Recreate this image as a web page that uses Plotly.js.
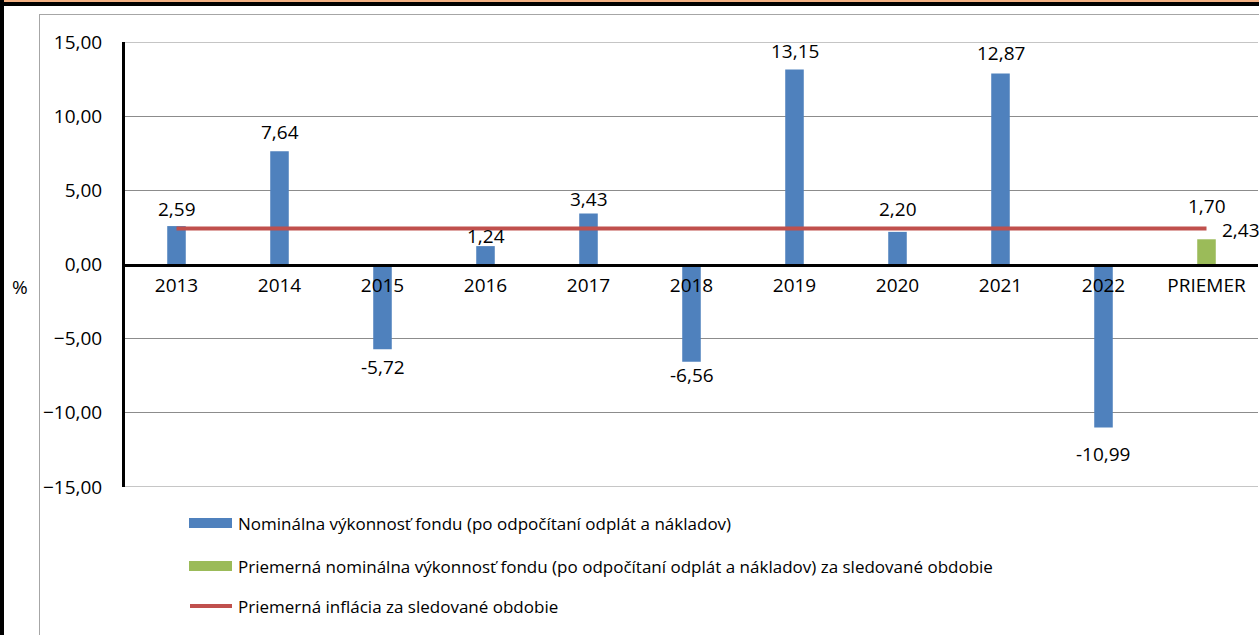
<!DOCTYPE html>
<html>
<head>
<meta charset="utf-8">
<script src="https://cdn.plot.ly/plotly-3.0.1.min.js"></script>
<style>
  html, body { margin: 0; padding: 0; background: #ffffff; }
  #chart { position: absolute; left: 0; top: 0; width: 1259px; height: 635px; }
  .frame { position: absolute; pointer-events: none; }
</style>
</head>
<body>
<div id="chart"></div>
<div class="frame" style="left:0;top:0;width:1259px;height:2px;background:#f4b183;"></div>
<div class="frame" style="left:0;top:2px;width:1259px;height:4px;background:#000;"></div>
<div class="frame" style="left:0;top:0;width:4px;height:635px;background:#000;"></div>
<div class="frame" style="left:39px;top:14px;width:1220px;height:621px;border-left:1px solid #a6a6a6;border-top:1px solid #a6a6a6;box-sizing:border-box;"></div>
<script>
// ---- data ----
const categories = ['2013', '2014', '2015', '2016', '2017', '2018', '2019', '2020', '2021', '2022', 'PRIEMER'];
const fundReturn = [2.59, 7.64, -5.72, 1.24, 3.43, -6.56, 13.15, 2.20, 12.87, -10.99, null];
const avgFundReturn = [null, null, null, null, null, null, null, null, null, null, 1.70];
const avgInflation = [2.43, 2.43, 2.43, 2.43, 2.43, 2.43, 2.43, 2.43, 2.43, 2.43, 2.43];
const seriesNames = [
  'Nominálna výkonnosť fondu (po odpočítaní odplát a nákladov)',
  'Priemerná nominálna výkonnosť fondu (po odpočítaní odplát a nákladov) za sledované obdobie',
  'Priemerná inflácia za sledované obdobie'
];
const yTicks = [-15, -10, -5, 0, 5, 10, 15];

// ---- style ----
const blue = '#4f81bd', green = '#9bbb59', red = '#c0504d';
const FONT = 'Open Sans, sans-serif';
const TICK_SIZE = 19, LEGEND_SIZE = 17;
// per-label vertical distance (px) between bar end and label centre
const labelNudge = [17, 19, 18, 10, 15, 13, 18, 23, 21, 26, 33];

const W = 1259, H = 635;
const M = { l: 125, r: 1, t: 42, b: 148 };
const pw = W - M.l - M.r, ph = H - M.t - M.b;
const px2x = p => (p - M.l) / pw;
const px2y = p => (H - M.b - p) / ph;
const fmt = v => v.toFixed(2).replace('.', ',');

const traces = [
  { type: 'bar', x: categories, y: fundReturn, name: seriesNames[0],
    marker: { color: blue }, width: 0.18, showlegend: false, hoverinfo: 'x+y' },
  { type: 'bar', x: categories, y: avgFundReturn, name: seriesNames[1],
    marker: { color: green }, width: 0.18, showlegend: false, hoverinfo: 'x+y' },
  { type: 'scatter', mode: 'lines', x: categories, y: avgInflation, name: seriesNames[2],
    line: { color: red, width: 4 }, showlegend: false, hoverinfo: 'x+y' }
];

const annotations = [];
// data labels (x given as category index so numeric-looking names are not misread)
categories.forEach((c, i) => {
  let v = fundReturn[i];
  if (v === null) v = avgFundReturn[i];
  if (v === null) return;
  const s = v >= 0 ? 1 : -1;
  annotations.push({ x: i, y: v, xref: 'x', yref: 'y', text: fmt(v), showarrow: false,
    xanchor: 'center', yanchor: 'middle',
    yshift: s * labelNudge[i], font: { family: FONT, size: TICK_SIZE, color: '#000' } });
});
// inflation label at the end of the line
const last = categories.length - 1;
annotations.push({ x: last, y: avgInflation[last], xref: 'x', yref: 'y',
  text: fmt(avgInflation[last]), showarrow: false, xanchor: 'left', yanchor: 'middle',
  xshift: 13, yshift: -2, font: { family: FONT, size: TICK_SIZE, color: '#000' } });
// "%" axis label
annotations.push({ x: px2x(20), y: px2y(287), xref: 'paper', yref: 'paper', text: '%',
  xanchor: 'center', yanchor: 'middle',
  showarrow: false, font: { family: FONT, size: TICK_SIZE, color: '#000' } });

const shapes = [];
// outer gridlines (top and bottom of the value range)
[yTicks[0], yTicks[yTicks.length - 1]].forEach(v => {
  shapes.push({ type: 'line', xref: 'paper', yref: 'y', x0: 0, x1: 1, y0: v, y1: v,
    line: { color: '#8c8c8c', width: 1 }, layer: 'below' });
});
// manual legend
const legendRows = [523, 566, 606];
const legendColors = [blue, green, red];
seriesNames.forEach((n, i) => {
  const yc = legendRows[i];
  if (i < 2) {
    shapes.push({ type: 'rect', xref: 'paper', yref: 'paper',
      x0: px2x(189), x1: px2x(232), y0: px2y(yc - 5), y1: px2y(yc + 5),
      fillcolor: legendColors[i], line: { width: 0 } });
  } else {
    shapes.push({ type: 'line', xref: 'paper', yref: 'paper',
      x0: px2x(190), x1: px2x(232), y0: px2y(yc), y1: px2y(yc),
      line: { color: legendColors[i], width: 4 } });
  }
  annotations.push({ x: px2x(236), y: px2y(yc), xref: 'paper', yref: 'paper', text: n,
    xanchor: 'left', yanchor: 'middle', showarrow: false,
    font: { family: FONT, size: LEGEND_SIZE, color: '#000' } });
});

const layout = {
  width: W, height: H,
  margin: M,
  paper_bgcolor: 'rgba(0,0,0,0)', plot_bgcolor: '#ffffff',
  separators: ', ',
  barmode: 'overlay',
  showlegend: false,
  font: { family: FONT, size: TICK_SIZE, color: '#000' },
  xaxis: {
    type: 'category', range: [-0.5, categories.length - 0.5],
    anchor: 'free', position: (0 - yTicks[0]) / (yTicks[yTicks.length - 1] - yTicks[0]),
    showline: true, linecolor: '#000', linewidth: 3,
    showgrid: false, zeroline: false, ticks: '', ticklabelstandoff: 3,
    tickfont: { family: FONT, size: TICK_SIZE, color: '#000' }, automargin: false
  },
  yaxis: {
    range: [yTicks[0], yTicks[yTicks.length - 1]], tickvals: yTicks, tickformat: '.2f',
    showline: true, linecolor: '#000', linewidth: 3,
    showgrid: true, gridcolor: '#8c8c8c', gridwidth: 1, zeroline: false,
    ticks: '', ticklabelstandoff: 16,
    tickfont: { family: FONT, size: TICK_SIZE, color: '#000' }, automargin: false
  },
  annotations: annotations,
  shapes: shapes
};

Plotly.newPlot('chart', traces, layout, { displayModeBar: false, staticPlot: true });
</script>
</body>
</html>
